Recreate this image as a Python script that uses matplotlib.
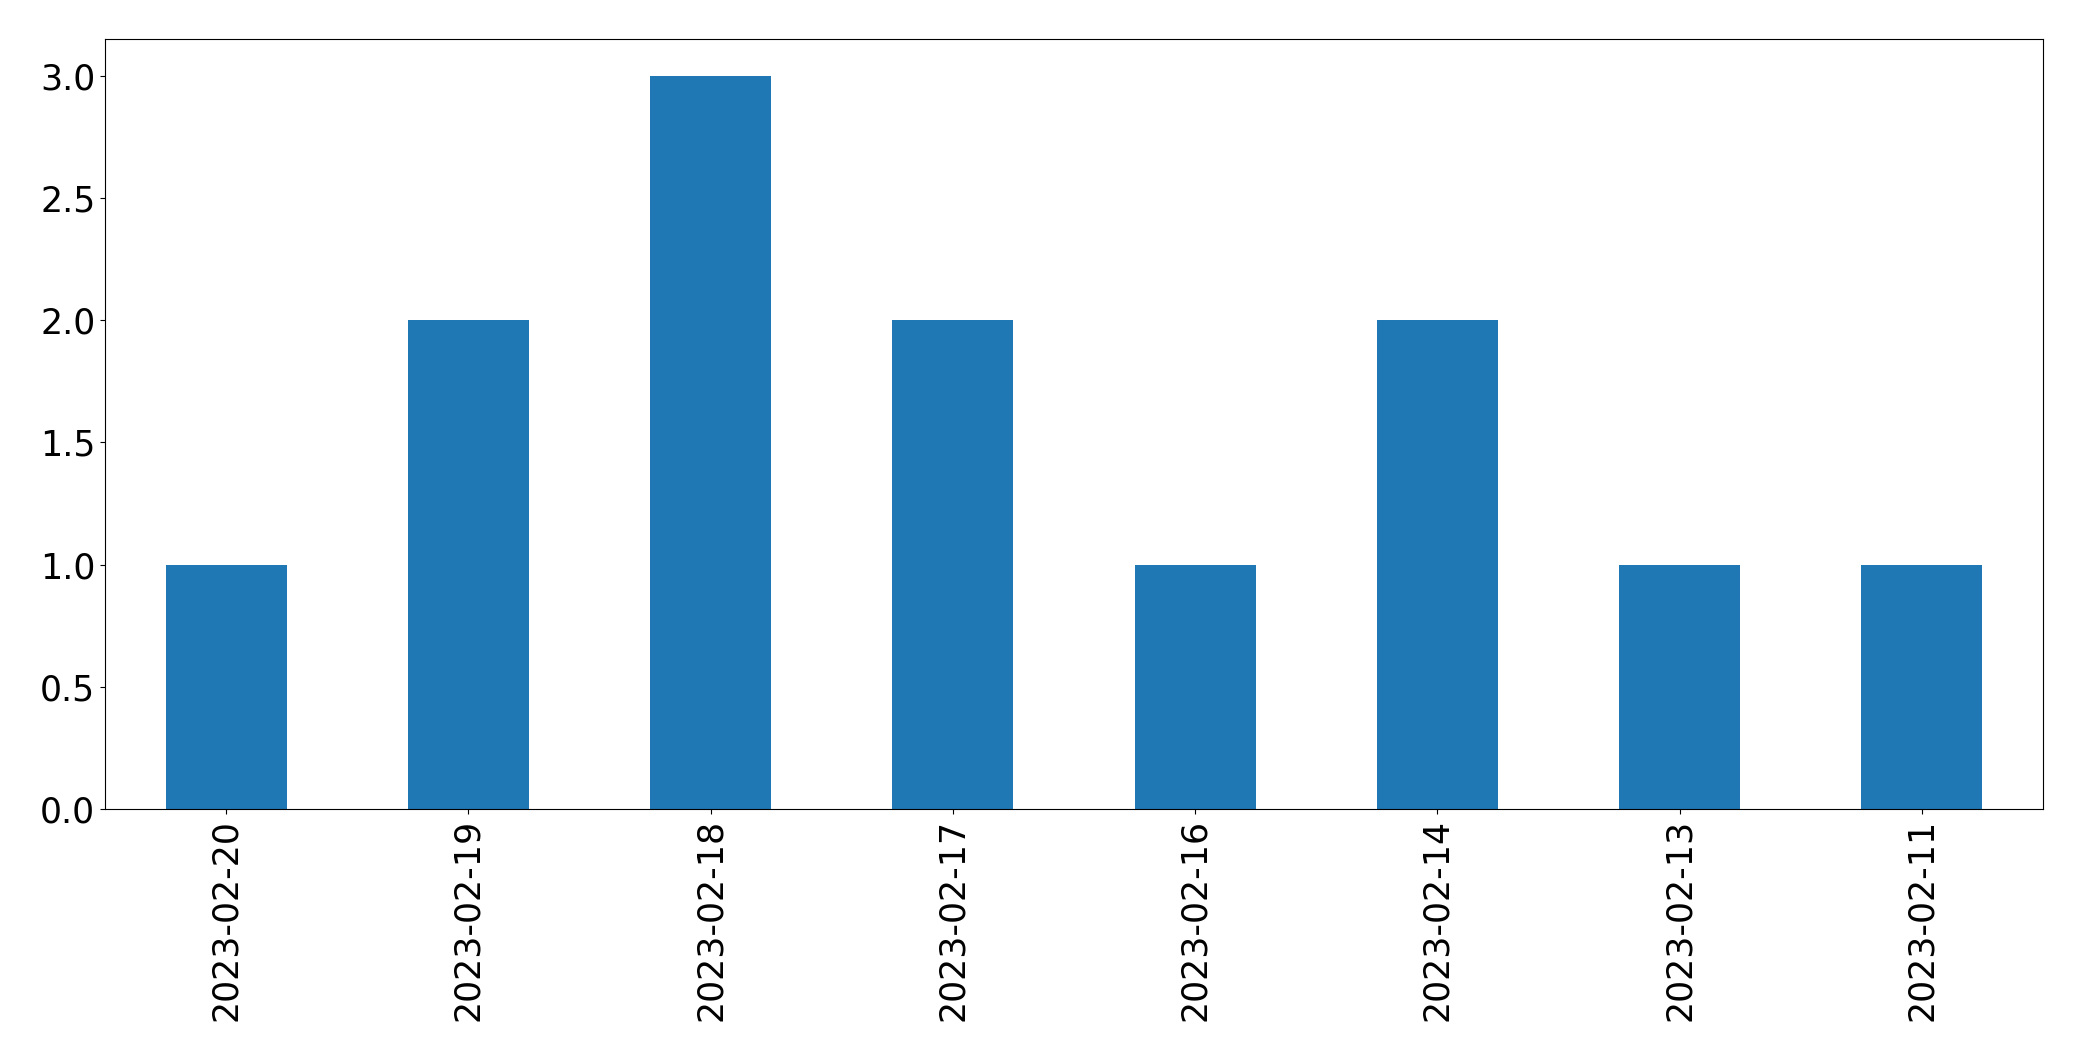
import numpy as np
import matplotlib
matplotlib.use('Agg')
import matplotlib.pyplot as plt

# Contagem por data
datas = ['2023-02-20', '2023-02-19', '2023-02-18', '2023-02-17',
         '2023-02-16', '2023-02-14', '2023-02-13', '2023-02-11']
contagens = [1, 2, 3, 2, 1, 2, 1, 1]

fig, ax = plt.subplots(figsize=(20.82, 10.61), dpi=100)
fig.subplots_adjust(left=105/2082, right=2043/2082, top=1-39/1061, bottom=1-809/1061)

x = np.arange(len(datas))
ax.bar(x, contagens, width=0.5, color='#1f77b4')
ax.set_xticks(x)
ax.set_xticklabels(datas, rotation=90)
ax.set_xlim(-0.5, len(datas) - 0.5)
ax.tick_params(labelsize=25)

fig.savefig('out.png', dpi=100)
